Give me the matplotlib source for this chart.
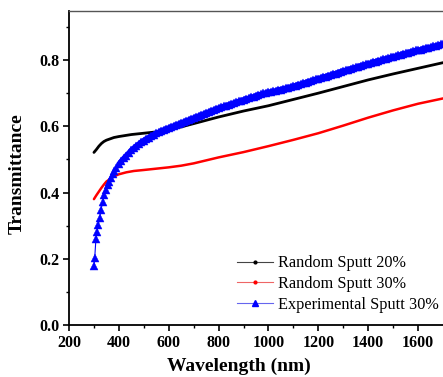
import numpy as np
import matplotlib
matplotlib.use("Agg")
import matplotlib.pyplot as plt
from matplotlib.lines import Line2D

# Random Sputt 20% (black)
wl_20 = [300, 310, 320, 330, 340, 350, 365, 380, 400, 450, 500, 550, 600, 650,
         700, 750, 800, 850, 900, 950, 1000, 1100, 1200, 1300, 1400, 1500, 1600, 1700]
t_20 = [0.521, 0.530, 0.540, 0.548, 0.554, 0.558, 0.562, 0.566, 0.569, 0.575, 0.579,
        0.583, 0.590, 0.598, 0.608, 0.618, 0.628, 0.637, 0.646, 0.654, 0.662, 0.681,
        0.700, 0.720, 0.740, 0.758, 0.775, 0.792]

# Random Sputt 30% (red)
wl_30 = [300, 310, 320, 330, 340, 350, 365, 380, 400, 430, 460, 500, 550, 600, 650,
         700, 750, 800, 850, 900, 950, 1000, 1100, 1200, 1300, 1400, 1500, 1600, 1700]
t_30 = [0.380, 0.392, 0.403, 0.414, 0.424, 0.433, 0.441, 0.449, 0.455, 0.461, 0.465,
        0.468, 0.472, 0.476, 0.481, 0.488, 0.497, 0.506, 0.514, 0.522, 0.531, 0.540,
        0.559, 0.579, 0.602, 0.626, 0.648, 0.668, 0.684]

# Experimental Sputt 30% (blue), measured spectrum
wl_exp_start = [300, 303, 308, 312, 317, 323, 328, 335, 341, 348, 355, 361, 368, 375, 382, 390]
t_exp_start = [0.179, 0.201, 0.260, 0.280, 0.302, 0.322, 0.347, 0.372, 0.392, 0.408,
               0.423, 0.433, 0.445, 0.456, 0.466, 0.475]
t_exp_rest = [  # 400 ... 1700 nm, 10 nm step
    0.485, 0.494, 0.503, 0.511, 0.519, 0.527, 0.534, 0.540, 0.546, 0.552,
    0.557, 0.562, 0.566, 0.571, 0.575, 0.579, 0.582, 0.586, 0.589, 0.592,
    0.595, 0.598, 0.601, 0.604, 0.607, 0.610, 0.613, 0.616, 0.619, 0.622,
    0.625, 0.628, 0.631, 0.634, 0.637, 0.640, 0.643, 0.646, 0.649, 0.652,
    0.655, 0.657, 0.660, 0.662, 0.665, 0.667, 0.670, 0.672, 0.675, 0.677,
    0.680, 0.683, 0.684, 0.688, 0.689, 0.692, 0.695, 0.696, 0.699, 0.701,
    0.703, 0.704, 0.706, 0.707, 0.710, 0.711, 0.713, 0.715, 0.717, 0.719,
    0.721, 0.723, 0.726, 0.727, 0.730, 0.732, 0.735, 0.737, 0.739, 0.742,
    0.744, 0.746, 0.749, 0.750, 0.753, 0.755, 0.758, 0.759, 0.762, 0.765,
    0.767, 0.769, 0.771, 0.774, 0.775, 0.778, 0.780, 0.783, 0.784, 0.787,
    0.789, 0.791, 0.794, 0.795, 0.798, 0.799, 0.802, 0.804, 0.805, 0.808,
    0.810, 0.812, 0.814, 0.816, 0.819, 0.820, 0.822, 0.825, 0.826, 0.829,
    0.830, 0.831, 0.834, 0.836, 0.837, 0.839, 0.841, 0.843, 0.844, 0.847,
    0.848]
wl_exp_rest = list(range(400, 1701, 10))
wl_exp = wl_exp_start + wl_exp_rest
t_exp = t_exp_start + t_exp_rest

labels = ["Random Sputt 20%", "Random Sputt 30%", "Experimental Sputt 30%"]

plt.rcParams['font.family'] = ['Liberation Serif', 'DejaVu Serif']

fig = plt.figure(figsize=(4.43, 3.77), dpi=100)
ax = fig.add_axes([69 / 443, 52 / 377, 374 / 443, 314 / 377])

ax.plot(wl_20, t_20, color='black', lw=2.0, solid_capstyle='round')
ax.plot(wl_30, t_30, color='#ff0000', lw=1.8, solid_capstyle='round')
# dense part of the spectrum: markers overlap into a thick band
ax.plot(wl_exp_rest, t_exp_rest, color='#0000ff', lw=4.0, solid_capstyle='round')
ax.plot(wl_exp, t_exp, color='#0000ff', lw=0.8, marker='^', ms=5.2,
        markeredgewidth=0.3)

ax.set_xlim(200, 1700)
ax.set_ylim(0, 0.948)
ax.set_xticks(np.arange(200, 1700, 200))
ax.set_xticks(np.arange(300, 1700, 200), minor=True)
ax.set_yticks(np.arange(0, 0.81, 0.2))
ax.set_yticks(np.arange(0.1, 0.95, 0.2), minor=True)
ax.yaxis.set_major_formatter(matplotlib.ticker.FormatStrFormatter('%.1f'))

ax.tick_params(which='major', direction='out', length=4, width=1.2, pad=3,
               labelsize=11.5)
ax.tick_params(which='minor', direction='out', length=2.5, width=1.0)
for lab in ax.get_xticklabels() + ax.get_yticklabels():
    lab.set_fontweight('bold')

ax.spines['right'].set_visible(False)
ax.spines['top'].set_color('#555555')
ax.spines['top'].set_linewidth(1.0)
ax.spines['left'].set_linewidth(1.3)
ax.spines['bottom'].set_linewidth(1.3)

ax.set_xlabel('Wavelength (nm)', fontsize=14, fontweight='bold')
ax.set_ylabel('Transmittance', fontsize=14, fontweight='bold')
ax.xaxis.set_label_coords((239 - 69) / 374, -33 / 314)
ax.yaxis.set_label_coords(-43 / 374, (325 - 174) / 314)

handles = [
    Line2D([], [], color='#444444', lw=0.8, marker='.', ms=4, markerfacecolor='black',
           markeredgecolor='black'),
    Line2D([], [], color='#ee6666', lw=0.8, marker='.', ms=4, markerfacecolor='red',
           markeredgecolor='red'),
    Line2D([], [], color='#6666ee', lw=0.8, marker='^', ms=5, markerfacecolor='blue',
           markeredgecolor='blue'),
]
ax.legend(handles, labels, loc='upper left', bbox_to_anchor=(0.449, 0.222),
          frameon=False, fontsize=11.7, handlelength=2.2, handletextpad=0.3,
          labelspacing=0.3, borderpad=0, borderaxespad=0)

fig.savefig('out.png', dpi=100)
